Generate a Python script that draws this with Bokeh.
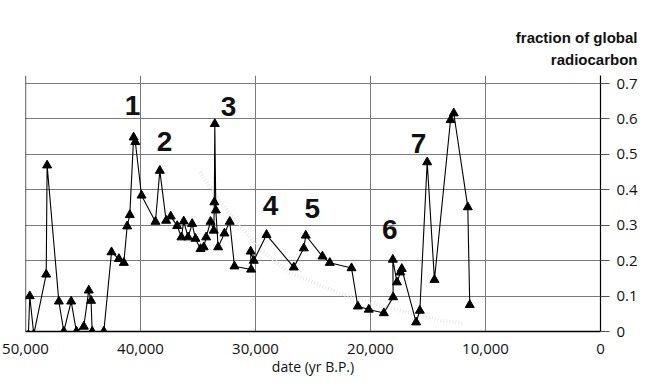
from bokeh.plotting import figure
from bokeh.models import Range1d, FixedTicker, Label, Span, NumeralTickFormatter, Title
from bokeh.embed import file_html
from bokeh.resources import INLINE

# ---- data ----
years = [49750, 49630, 49280, 48200, 48120, 47100, 46670, 46030, 45570, 44930,
         44500, 44300, 44200, 43190, 42520, 41880, 41450, 41160, 40930, 40600,
         40450, 39910, 38700, 38320, 37770, 37370, 36810, 36440, 36240, 35860,
         35510, 35220, 34780, 34500, 34290, 33910, 33630, 33580, 33540, 33450,
         33250, 32700, 32240, 31830, 30380, 30420, 30150, 29040, 26670, 25800,
         25630, 24180, 23540, 21650, 21100, 20150, 18840, 18030, 18060, 17700,
         17400, 17280, 16030, 15710, 15070, 14440, 13040, 12760, 11540, 11370]
fraction = [-0.01, 0.10, -0.008, 0.161, 0.469, 0.085, 0.0, 0.085, 0.0, 0.014,
            0.116, 0.087, 0.0, 0.0, 0.224, 0.205, 0.194, 0.297, 0.329, 0.548,
            0.535, 0.384, 0.31, 0.454, 0.313, 0.325, 0.298, 0.266, 0.311, 0.266,
            0.304, 0.262, 0.233, 0.238, 0.266, 0.31, 0.285, 0.365, 0.586, 0.342,
            0.238, 0.277, 0.31, 0.184, 0.175, 0.226, 0.2, 0.273, 0.181, 0.235,
            0.271, 0.212, 0.194, 0.179, 0.071, 0.062, 0.052, 0.097, 0.203, 0.139,
            0.167, 0.177, 0.026, 0.059, 0.478, 0.146, 0.597, 0.616, 0.351, 0.075]

# faint background trace visible in the scan
ghost_years = [34800, 33600, 32200, 29500, 27000, 22600, 18500, 13900, 11900]
ghost_frac = [0.45, 0.39, 0.33, 0.23, 0.165, 0.107, 0.068, 0.031, 0.023]

x_ticks = [50000, 40000, 30000, 20000, 10000, 0]
y_ticks = [0, 0.1, 0.2, 0.3, 0.4, 0.5, 0.6, 0.7]
y_tick_labels = ["0", "0.1", "0.2", "0.3", "0.4", "0.5", "0.6", "0.7"]

peak_labels = ["1", "2", "3", "4", "5", "6", "7"]
peak_x = [40700, 37910, 32350, 28700, 25070, 18330, 15830]
peak_y = [0.638, 0.537, 0.636, 0.355, 0.347, 0.287, 0.530]

tick_font = "Open Sans"
title_font = "Liberation Sans"

p = figure(width=650, height=385, output_backend="svg", toolbar_location=None,
           x_range=Range1d(50000, 0), y_range=Range1d(0, 0.7226),
           y_axis_location="right",
           min_border_left=25, min_border_right=50, min_border_top=75,
           min_border_bottom=54)
p.outline_line_color = None
p.background_fill_color = "white"
p.title.visible = False

# y-axis title (two lines, top right)
p.add_layout(Title(text="radiocarbon", align="right", offset=-37, standoff=16,
                   text_font=title_font, text_font_style="bold",
                   text_font_size="15px", text_color="#111111"), "above")
p.add_layout(Title(text="fraction of global", align="right", offset=-37, standoff=-10,
                   text_font=title_font, text_font_style="bold",
                   text_font_size="15px", text_color="#111111"), "above")

# x axis
xa = p.xaxis[0]
xa.ticker = FixedTicker(ticks=x_ticks)
xa.formatter = NumeralTickFormatter(format="0,0")
xa.major_tick_out = 0
xa.major_tick_in = 0
xa.minor_tick_out = 0
xa.minor_tick_in = 0
xa.major_label_standoff = 12
xa.major_label_text_font = tick_font
xa.major_label_text_font_size = "15px"
xa.major_label_text_color = "#111111"
xa.axis_line_color = "black"
xa.axis_line_width = 1.3
xa.axis_label = "date (yr B.P.)"
xa.axis_label_standoff = 0
xa.axis_label_text_font = tick_font
xa.axis_label_text_font_size = "14px"
xa.axis_label_text_font_style = "normal"
xa.axis_label_text_color = "#111111"

# y axis (right)
ya = p.yaxis[0]
ya.ticker = FixedTicker(ticks=y_ticks)
ya.major_label_overrides = {t: l for t, l in zip(y_ticks, y_tick_labels)}
ya.major_tick_out = 9
ya.major_tick_in = 0
ya.minor_tick_out = 0
ya.minor_tick_in = 0
ya.major_tick_line_color = "#555555"
ya.major_label_standoff = 7
ya.major_label_text_font = tick_font
ya.major_label_text_font_size = "15px"
ya.major_label_text_color = "#111111"
ya.axis_line_color = "black"
ya.axis_line_width = 1.2

p.xgrid.ticker = FixedTicker(ticks=x_ticks)
p.ygrid.ticker = FixedTicker(ticks=y_ticks)
p.xgrid.grid_line_color = "#7a7a7a"
p.ygrid.grid_line_color = "#7a7a7a"
p.xgrid.grid_line_width = 1
p.ygrid.grid_line_width = 1

p.add_layout(Span(location=50000, dimension="height", line_color="black", line_width=1.3))

# ghost trace
p.line(ghost_years, ghost_frac, line_color="#e8e8e8", line_width=4, line_dash="1 2")

# main series
p.line(years, fraction, line_color="black", line_width=1.1)
p.scatter(years, fraction, marker="triangle", size=9, fill_color="black",
          line_color="black")

for t, xx, yy in zip(peak_labels, peak_x, peak_y):
    p.add_layout(Label(x=xx, y=yy, text=t, text_align="center", text_baseline="middle",
                       text_font="Liberation Sans", text_font_style="bold",
                       text_font_size="28px", text_color="#111111"))

open("out.html", "w").write(file_html(p, INLINE))
